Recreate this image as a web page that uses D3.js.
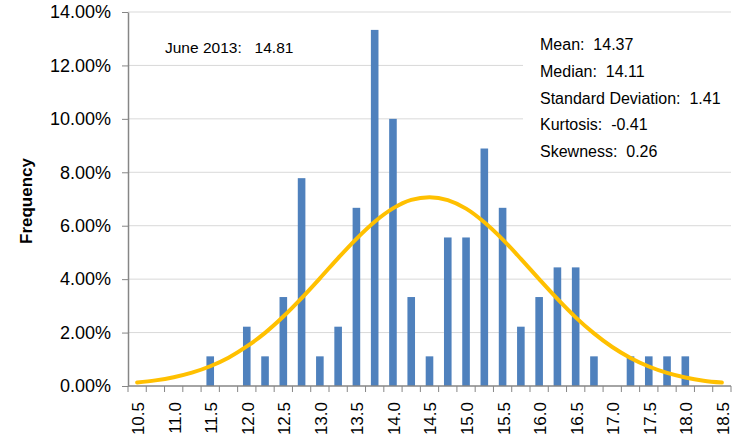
<!DOCTYPE html>
<html>
<head>
<meta charset="utf-8">
<script src="https://cdn.jsdelivr.net/npm/d3@7"></script>
<style>
  body { margin: 0; background: #fff; }
  svg { font-family: "Liberation Sans", Arial, sans-serif; }
  .grid line { stroke: #d9d9d9; stroke-width: 1; }
  .axis path, .axis line { stroke: #868686; }
  .axis text { fill: #000; font-size: 17px; }
</style>
</head>
<body>
<svg width="740" height="441"></svg>
<script>
// bins (step 0.25)
var bins = d3.range(33).map(i => 10.5 + i * 0.25);

// frequency of each bin, percent
var freq = [0, 0, 0, 0, 1.11, 0, 2.22, 1.11, 3.33, 7.78, 1.11, 2.22, 6.67, 13.33, 10.0, 3.33,
            1.11, 5.56, 5.56, 8.89, 6.67, 2.22, 3.33, 4.44, 4.44, 1.11, 0, 1.11, 1.11, 1.11, 1.11, 0, 0];

// fitted normal curve, percent
var curve = [0.13, 0.21, 0.33, 0.50, 0.74, 1.06, 1.48, 1.99, 2.60, 3.29, 4.03, 4.79, 5.51, 6.15, 6.65, 6.97,
             7.07, 6.96, 6.64, 6.13, 5.49, 4.76, 4.00, 3.26, 2.57, 1.97, 1.46, 1.05, 0.73, 0.49, 0.32, 0.20, 0.13];

var yTicks = [0, 2, 4, 6, 8, 10, 12, 14];

var stats = ["Mean:  14.37", "Median:  14.11", "Standard Deviation:  1.41", "Kurtosis:  -0.41", "Skewness:  0.26"];
var note = "June 2013:   14.81";

var svg = d3.select('svg');
var margin = {left: 128, right: 9, top: 12, bottom: 55};
var w = 740 - margin.left - margin.right,
    h = 441 - margin.top - margin.bottom;

var g = svg.append('g').attr('transform', `translate(${margin.left},${margin.top})`);

var x = d3.scaleBand().domain(bins).range([0, w]);
var y = d3.scaleLinear().domain([0, 14]).range([h, 0]);

// gridlines
g.append('g')
  .attr('class', 'grid')
  .selectAll('line')
  .data(yTicks.slice(1))
  .enter()
  .append('line')
    .attr('x1', 0)
    .attr('x2', w)
    .attr('y1', d => y(d))
    .attr('y2', d => y(d));

// stats box covers gridlines
g.append('rect')
  .attr('x', 395)
  .attr('y', 18)
  .attr('width', w - 395)
  .attr('height', 138)
  .attr('fill', '#fff');

// bars
g.selectAll('rect.bar')
  .data(bins.map((b, i) => ({b: b, v: freq[i]})).filter(d => d.v > 0))
  .enter()
  .append('rect')
    .attr('class', 'bar')
    .attr('x', d => x(d.b) + x.bandwidth() / 2 - 3.8)
    .attr('width', 7.6)
    .attr('y', d => y(d.v))
    .attr('height', d => h - y(d.v))
    .attr('fill', '#4f81bd');

// normal curve
var line = d3.line()
  .x((d, i) => x(bins[i]) + x.bandwidth() / 2)
  .y(d => y(d))
  .curve(d3.curveMonotoneX);

g.append('path')
  .datum(curve)
  .attr('d', line)
  .attr('fill', 'none')
  .attr('stroke', '#ffc000')
  .attr('stroke-width', 4)
  .attr('stroke-linecap', 'round');

// y axis
var yAxis = g.append('g')
  .attr('class', 'axis')
  .call(d3.axisLeft(y).tickValues(yTicks).tickSize(6).tickSizeOuter(0)
    .tickFormat(d => d3.format('.2f')(d) + '%'));
yAxis.selectAll('text').attr('x', -17).style('font-size', '18px');
yAxis.select('.domain').attr('stroke-width', 1.5);

// x axis: ticks at bin edges, labels every other bin
var xAxis = g.append('g')
  .attr('class', 'axis')
  .attr('transform', `translate(0,${h})`);
xAxis.append('line')
  .attr('x1', 0).attr('x2', w)
  .attr('stroke-width', 1.5);
xAxis.selectAll('line.tk')
  .data(d3.range(bins.length + 1))
  .enter()
  .append('line')
    .attr('class', 'tk')
    .attr('x1', i => i * x.step())
    .attr('x2', i => i * x.step())
    .attr('y1', 0)
    .attr('y2', 6);
xAxis.selectAll('text')
  .data(bins.filter((b, i) => i % 2 === 0))
  .enter()
  .append('text')
    .attr('transform', d => `translate(${x(d) + x.bandwidth() / 2 + 1},16) rotate(-90)`)
    .attr('text-anchor', 'end')
    .attr('dy', '0.35em')
    .text(d => d.toFixed(1));

// y title
svg.append('text')
  .attr('transform', 'translate(32,201) rotate(-90)')
  .attr('text-anchor', 'middle')
  .attr('font-weight', 'bold')
  .attr('font-size', 17)
  .text('Frequency');

// annotations
svg.append('text')
  .attr('x', 165)
  .attr('y', 53)
  .attr('font-size', 15.5)
  .style('white-space', 'pre')
  .text(note);

svg.selectAll('text.stat')
  .data(stats)
  .enter()
  .append('text')
    .attr('class', 'stat')
    .attr('x', 540)
    .attr('y', (d, i) => 50 + i * 26.8)
    .attr('font-size', 16)
    .style('white-space', 'pre')
    .text(d => d);
</script>
</body>
</html>
